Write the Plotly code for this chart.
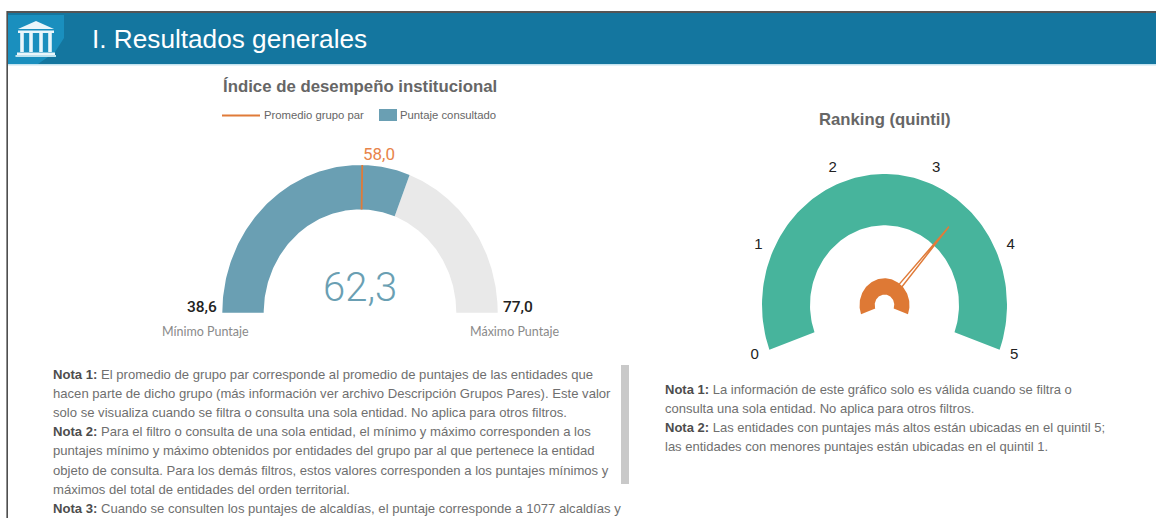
import numpy as np
import plotly.graph_objects as go

W, H = 1156, 518

# ---- data ----
score_min = 38.6
score_max = 77.0
score_value = 62.3
score_group_avg = 58.0
quintil_ticks = [0, 1, 2, 3, 4, 5]
quintil_value = 3.44

page_title = "I. Resultados generales"
title_left = "Índice de desempeño institucional"
title_right = "Ranking (quintil)"
legend_line = "Promedio grupo par"
legend_box = "Puntaje consultado"
label_min = "Mínimo Puntaje"
label_max = "Máximo Puntaje"

notes_left = [
    "<b>Nota 1:</b> El promedio de grupo par corresponde al promedio de puntajes de las entidades que",
    "hacen parte de dicho grupo (más información ver archivo Descripción Grupos Pares). Este valor",
    "solo se visualiza cuando se filtra o consulta una sola entidad. No aplica para otros filtros.",
    "<b>Nota 2:</b> Para el filtro o consulta de una sola entidad, el mínimo y máximo corresponden a los",
    "puntajes mínimo y máximo obtenidos por entidades del grupo par al que pertenece la entidad",
    "objeto de consulta. Para los demás filtros, estos valores corresponden a los puntajes mínimos y",
    "máximos del total de entidades del orden territorial.",
    "<b>Nota 3:</b> Cuando se consulten los puntajes de alcaldías, el puntaje corresponde a 1077 alcaldías y",
]
notes_right = [
    "<b>Nota 1:</b> La información de este gráfico solo es válida cuando se filtra o",
    "consulta una sola entidad. No aplica para otros filtros.",
    "<b>Nota 2:</b> Las entidades con puntajes más altos están ubicadas en el quintil 5;",
    "las entidades con menores puntajes están ubicadas en el quintil 1.",
]

# ---- colours ----
HEADER = "#14769f"
ICON_BG = "#1a8fbe"
STEEL = "#6a9fb3"
TRACK = "#e9e9e9"
ORANGE = "#e07b39"
TEAL = "#47b49c"
GREY_T = "#666666"
NOTE = "#6f6f6f"
SANS = "Liberation Sans"
NUM = "Roboto"


def px(x):
    return x / W


def py(y):
    return 1 - y / H


def arc(a0, a1, r_in, r_out, n=120):
    t = np.radians(np.linspace(a0, a1, n))
    xs = np.r_[r_out * np.cos(t), r_in * np.cos(t[::-1]), r_out * np.cos(t[0])]
    ys = np.r_[r_out * np.sin(t), r_in * np.sin(t[::-1]), r_out * np.sin(t[0])]
    return xs, ys


def fmt(v):
    return f"{v:.1f}".replace(".", ",")


fig = go.Figure()


def add_poly(xs, ys, color, axes, line=None):
    fig.add_trace(go.Scatter(
        x=xs, y=ys, mode="lines", fill="toself", fillcolor=color,
        line=line or dict(width=0, color=color), hoverinfo="skip",
        showlegend=False, xaxis=axes[0], yaxis=axes[1]))


# left gauge
ang = lambda v: 180 - 180 * (v - score_min) / (score_max - score_min)
LI, LO = 96.3 / 137.7, 1.0
add_poly(*arc(ang(score_value), 0, LI, LO), TRACK, ("x", "y"))
add_poly(*arc(180, ang(score_value), LI, LO), STEEL, ("x", "y"))
a = np.radians(ang(score_group_avg))
fig.add_trace(go.Scatter(
    x=[LI * np.cos(a), LO * np.cos(a)], y=[LI * np.sin(a), LO * np.sin(a)],
    mode="lines", line=dict(color=ORANGE, width=1.8), hoverinfo="skip",
    showlegend=False, xaxis="x", yaxis="y"))

# right gauge
qang = lambda q: 200 - 220 * q / 5
add_poly(*arc(qang(0), qang(5), 74.5 / 122.5, 1.0), TEAL, ("x2", "y2"))
na = np.radians(qang(quintil_value))
tip = 0.795
base = 0.15
hw = 0.016
ux, uy = np.cos(na), np.sin(na)
fig.add_trace(go.Scatter(
    x=[base * ux - hw * uy, tip * ux, base * ux + hw * uy, base * ux - hw * uy],
    y=[base * uy + hw * ux, tip * uy, base * uy - hw * ux, base * uy + hw * ux],
    mode="lines", fill="toself", fillcolor="rgba(255,255,255,1)",
    line=dict(color=ORANGE, width=1.5), hoverinfo="skip", showlegend=False,
    xaxis="x2", yaxis="y2"))
add_poly(*arc(qang(0), qang(5), 0.08, 0.204), "#de7935", ("x2", "y2"))
lab_t = np.radians([qang(q) for q in quintil_ticks])
fig.add_trace(go.Scatter(
    x=1.127 * np.cos(lab_t), y=1.127 * np.sin(lab_t), mode="text",
    text=[str(q) for q in quintil_ticks],
    textfont=dict(family=SANS, size=15, color="#222222"),
    hoverinfo="skip", showlegend=False, xaxis="x2", yaxis="y2"))

# axes: unit radius = measured pixel radius of each (slightly stretched) gauge
L_CX, L_CY, L_RX, L_RY = 360.0, 312.7, 137.7, 147.7
R_CX, R_CY, R_RX, R_RY = 884.5, 305.0, 122.5, 131.0
hide = dict(visible=False, fixedrange=True)


def xax(cx, rx, half):
    return dict(domain=[px(cx - half), px(cx + half)], range=[-half / rx, half / rx], **hide)


def yax(cy, ry, top, bot, anchor):
    return dict(domain=[py(bot), py(top)], range=[(cy - bot) / ry, (cy - top) / ry], anchor=anchor, **hide)


shapes = []


def rect(x0, y0, x1, y1, color):
    shapes.append(dict(type="rect", xref="paper", yref="paper", x0=px(x0), x1=px(x1),
                       y0=py(y1), y1=py(y0), fillcolor=color, line_width=0, layer="below"))


def path(points, color):
    d = "M" + "L".join(f"{px(a)},{py(b)}" for a, b in points) + "Z"
    shapes.append(dict(type="path", xref="paper", yref="paper", path=d,
                       fillcolor=color, line_width=0, layer="below"))


# header band
rect(8, 11, W, 13, "#555555")
rect(8, 13, W, 64, HEADER)
rect(8, 64, W, 65.5, "#c5e4f0")
rect(6.5, 11, 7.8, H, "#222222")
path([(8, 15), (64, 15), (64, 38), (55, 52), (38, 64), (8, 64)], ICON_BG)
# temple icon
ICON = "#eaf6fb"
path([(36, 21), (54, 29), (18, 29)], ICON)
rect(18, 30.5, 54, 33, ICON)
for cx in (22, 31, 41, 50):
    rect(cx - 1.8, 33, cx + 1.8, 52, ICON)
rect(17, 52.5, 55, 55, ICON)
rect(15.5, 55, 56, 57, "#bfe3f0")

# scrollbar
rect(621, 365, 629, 484, "#c9c9c9")

# legend
shapes.append(dict(type="line", xref="paper", yref="paper", x0=px(222), x1=px(260),
                   y0=py(115.5), y1=py(115.5), line=dict(color=ORANGE, width=2.2)))
rect(379, 109, 397, 121, STEEL)

ann = []


def text(x, y, s, size, color, family=SANS, anchor="center", weight=None):
    ann.append(dict(xref="paper", yref="paper", x=px(x), y=py(y), text=s, showarrow=False,
                    xanchor=anchor, yanchor="middle", align="left", borderpad=0, borderwidth=0,
                    font=dict(family=family, size=size, color=color, weight=weight)))


text(92, 39, page_title, 26.2, "#ffffff", anchor="left")
text(360, 86, f"<b>{title_left}</b>", 16.8, GREY_T)
text(884.5, 119.5, f"<b>{title_right}</b>", 16.7, GREY_T)
text(264, 115, legend_line, 11.3, "#666666", anchor="left")
text(400, 115, legend_box, 11.3, "#666666", anchor="left")
text(379, 154, fmt(score_group_avg), 17, "#e8844a", family=NUM)
text(360, 287, fmt(score_value), 40, STEEL, family=NUM, weight=300)
text(202, 307, fmt(score_min), 15.5, "#222222", family=NUM, weight=500)
text(518, 307, fmt(score_max), 15.5, "#222222", family=NUM, weight=500)
text(205.5, 331, label_min, 12.5, "#8a8a8a", family="Lato")
text(514, 331, label_max, 12.5, "#8a8a8a", family="Lato")

for i, line in enumerate(notes_left):
    text(53, 374 + i * 19.2, line.replace("<b>", "<b style='color:#4d4d4d'>"), 13.1, NOTE, anchor="left")
for i, line in enumerate(notes_right):
    text(665, 389 + i * 19.1, line.replace("<b>", "<b style='color:#4d4d4d'>"), 13, NOTE, anchor="left")

fig.update_layout(
    width=W, height=H, margin=dict(l=0, r=0, t=0, b=0),
    paper_bgcolor="white", plot_bgcolor="rgba(0,0,0,0)", showlegend=False,
    xaxis=xax(L_CX, L_RX, 160), yaxis=yax(L_CY, L_RY, 150, 330, "x"),
    xaxis2=xax(R_CX, R_RX, 150), yaxis2=yax(R_CY, R_RY, 150, 370, "x2"),
    shapes=shapes, annotations=ann,
)

fig.write_html("out.html", config={"displayModeBar": False},
               post_script="document.body.style.margin='0';document.body.style.overflow='hidden';")
